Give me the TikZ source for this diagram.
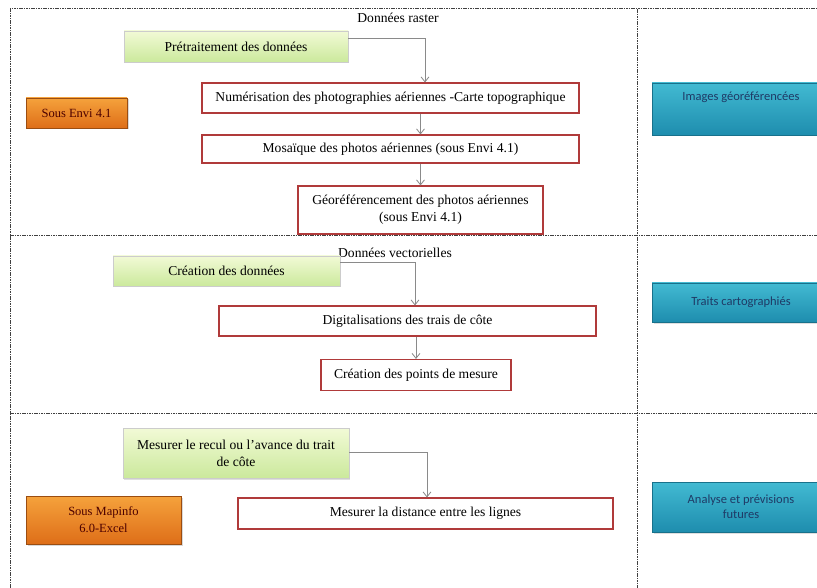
\documentclass[tikz,border=0pt]{standalone}
\usepackage{fontspec}
\setmainfont{Liberation Serif}
\newfontfamily\boxfont{Carlito}
\usetikzlibrary{arrows.meta, shadows}

\definecolor{redline}{HTML}{B03A3A}
\definecolor{linkgray}{HTML}{8A8A8A}
\definecolor{navytext}{HTML}{1F3A66}
\definecolor{prepTop}{HTML}{F2FAD6}
\definecolor{prepBot}{HTML}{CBE99C}
\definecolor{softTop}{HTML}{F5A23C}
\definecolor{softBot}{HTML}{DE6E18}
\definecolor{resTop}{HTML}{42BAD2}
\definecolor{resBot}{HTML}{1E8DAE}

\begin{document}
\begin{tikzpicture}[x=1pt, y=-1pt,
		frame/.style={line width=1pt, black!75, dash pattern=on 1.6pt off 0.8pt},
		step box/.style={draw=redline, line width=1.1pt, fill=white, align=center, inner sep=2pt,
			font=\fontsize{13.6}{17}\selectfont},
		prep/.style={draw=black!20, top color=prepTop, bottom color=prepBot,
			align=center, inner sep=2pt, font=\fontsize{13.6}{17}\selectfont,
			drop shadow={opacity=0.25, shadow xshift=1pt, shadow yshift=-1.5pt}},
		soft/.style={draw=softBot!70!black, top color=softTop, bottom color=softBot,
			text=black!70!red, align=center, inner sep=2pt, font=\fontsize{12.5}{17}\selectfont,
			drop shadow={opacity=0.3, shadow xshift=1.5pt, shadow yshift=-1.5pt}},
		result/.style={draw=resBot!80!black, top color=resTop, bottom color=resBot,
			text=navytext, align=center, inner sep=3pt, font=\boxfont\fontsize{12.5}{15}\selectfont,
			drop shadow={opacity=0.25, shadow xshift=1.5pt, shadow yshift=-1.5pt}},
		link/.style={linkgray, line width=0.8pt, -{Straight Barb[length=5pt, width=8pt]}},
		tag/.style={font=\fontsize{13.6}{17}\selectfont, inner sep=1pt}]
	\useasboundingbox (0,0) rectangle (817,588);
	\clip (0,0) rectangle (817,588);
	\fill[white] (0,0) rectangle (817,588);
	
	% Dashed frame around the three stages
	\draw[frame] (10,600) -- (10,9) -- (830,9);
	\draw[frame] (637,9) -- (637,600);
	\draw[frame] (10,236) -- (830,236);
	\draw[frame] (10,413) -- (830,413);
	
	% Stage 1: raster data
	\node[tag] (raster) at (398,18) {Données raster};
	\node[prep, minimum width=224, minimum height=31] (pre) at (236,46.5) {Prétraitement des données};
	\node[soft, minimum width=101, minimum height=30] (envi) at (76.5,113) {Sous Envi 4.1};
	\node[step box, minimum width=377, minimum height=30] (num) at (390.5,98) {Numérisation des photographies aériennes -Carte topographique};
	\node[step box, minimum width=377, minimum height=28] (mos) at (390.5,149) {Mosaïque des photos aériennes (sous Envi 4.1)};
	\node[step box, minimum width=245, minimum height=48] (geo) at (420.5,210) {Géoréférencement des photos aériennes\\(sous Envi 4.1)};
	\node[result, minimum width=178, minimum height=52, text depth=25pt] (img) at (741,109) {Images géoréférencées};
	
	\coordinate (k1) at (425,38);
	\draw[link] (pre.east |- k1) -- (k1) -- (k1 |- num.north);
	\draw[link] (num.south -| geo) -- (mos.north -| geo);
	\draw[link] (mos.south -| geo) -- (geo.north);
	
	% Stage 2: vector data
	\node[tag] (vect) at (395,253) {Données vectorielles};
	\node[prep, minimum width=227, minimum height=30] (crea) at (226.5,271) {Création des données};
	\node[step box, minimum width=377, minimum height=30] (digi) at (407.5,321) {Digitalisations des trais de côte};
	\node[step box, minimum width=190, minimum height=31] (pts) at (416,375) {Création des points de mesure};
	\node[result, minimum width=178, minimum height=39] (traits) at (741,302.5) {Traits cartographiés};
	
	\coordinate (k2) at (415,262);
	\draw[link] (crea.east |- k2) -- (k2) -- (k2 |- digi.north);
	\draw[link] (digi.south -| pts) -- (pts.north);
	
	% Stage 3: measuring the shoreline change
	\node[prep, minimum width=226, minimum height=50] (mes) at (236,453) {Mesurer le recul ou l'avance du trait\\de côte};
	\node[soft, minimum width=155, minimum height=48] (mapinfo) at (103.5,520) {Sous Mapinfo\\6.0-Excel};
	\node[step box, minimum width=375, minimum height=31] (dist) at (425.5,513.5) {Mesurer la distance entre les lignes};
	\node[result, minimum width=178, minimum height=50] (ana) at (741,507) {Analyse et prévisions\\futures};
	
	\coordinate (k3) at (427,452);
	\draw[link] (mes.east |- k3) -- (k3) -- (k3 |- dist.north);
\end{tikzpicture}
\end{document}
